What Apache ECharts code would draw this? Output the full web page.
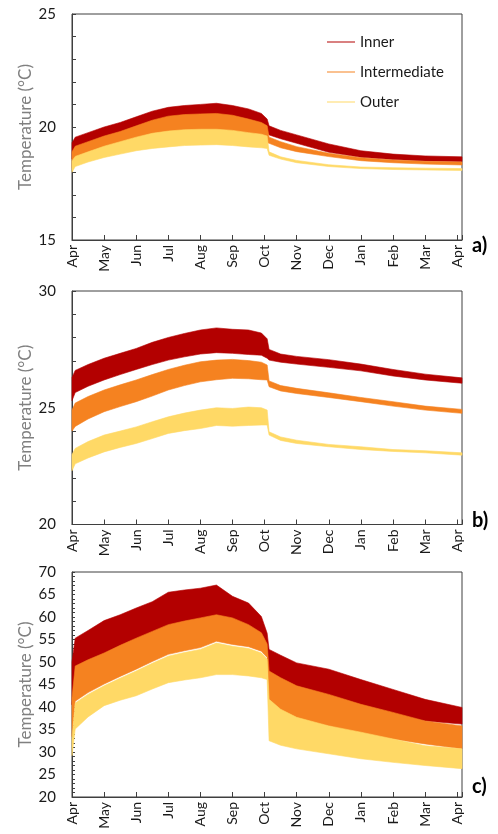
<!DOCTYPE html>
<html>
<head>
<meta charset="utf-8">
<script src="https://cdn.jsdelivr.net/npm/echarts@6/dist/echarts.min.js"></script>
<style>
  html, body { margin: 0; padding: 0; background: #ffffff; }
  #chart { width: 498px; height: 834px; }
</style>
</head>
<body>
<div id="chart"></div>
<script>
// Month tick labels (one year, April to April)
const monthLabels = ['Apr', 'May', 'Jun', 'Jul', 'Aug', 'Sep', 'Oct', 'Nov', 'Dec', 'Jan', 'Feb', 'Mar', 'Apr'];

// Sample positions, in months since 1 April
const monthPos = [0, 0.1, 0.5, 1, 1.5, 2, 2.5, 3, 3.5, 4, 4.5, 5, 5.5, 5.9, 6.08, 6.14, 6.5, 7, 8, 9, 10, 11, 12.15];

// Series names
const seriesNames = ['Inner', 'Intermediate', 'Outer'];

// a) daily temperature envelope (low / high), °C
const aInnerHi = [19.3, 19.55, 19.75, 20.0, 20.2, 20.45, 20.7, 20.87, 20.95, 21.0, 21.05, 20.95, 20.8, 20.6, 20.35, 20.05, 19.85, 19.65, 19.25, 18.95, 18.8, 18.72, 18.68];
const aInnerLo = [18.6, 18.85, 19.05, 19.3, 19.5, 19.75, 20.0, 20.18, 20.25, 20.28, 20.3, 20.22, 20.05, 19.9, 19.75, 19.65, 19.48, 19.28, 18.88, 18.66, 18.56, 18.5, 18.47];
const aMidHi   = [18.9, 19.15, 19.35, 19.6, 19.8, 20.05, 20.3, 20.48, 20.55, 20.58, 20.6, 20.52, 20.35, 20.2, 20.05, 19.55, 19.35, 19.13, 18.84, 18.64, 18.54, 18.48, 18.45];
const aMidLo   = [18.2, 18.4, 18.6, 18.85, 19.05, 19.25, 19.42, 19.52, 19.58, 19.6, 19.6, 19.55, 19.45, 19.38, 19.3, 19.28, 19.08, 18.91, 18.69, 18.51, 18.42, 18.36, 18.32];
const aOuterHi = [18.5, 18.7, 18.9, 19.15, 19.35, 19.55, 19.72, 19.82, 19.88, 19.9, 19.9, 19.85, 19.75, 19.68, 19.6, 18.9, 18.68, 18.52, 18.33, 18.23, 18.2, 18.18, 18.16];
const aOuterLo = [18.0, 18.25, 18.45, 18.65, 18.8, 18.95, 19.05, 19.12, 19.18, 19.2, 19.22, 19.18, 19.12, 19.08, 19.05, 18.75, 18.58, 18.42, 18.25, 18.16, 18.12, 18.1, 18.08];

// b) daily temperature envelope (low / high), °C
const bInnerHi = [26.3, 26.6, 26.85, 27.12, 27.33, 27.54, 27.8, 28.01, 28.18, 28.33, 28.42, 28.36, 28.33, 28.2, 27.95, 27.5, 27.3, 27.2, 27.06, 26.87, 26.64, 26.44, 26.28];
const bInnerLo = [25.3, 25.65, 25.92, 26.19, 26.42, 26.64, 26.85, 27.04, 27.18, 27.3, 27.36, 27.33, 27.28, 27.25, 27.12, 27.04, 26.95, 26.87, 26.73, 26.58, 26.36, 26.19, 26.05];
const bMidHi   = [24.9, 25.2, 25.48, 25.76, 25.98, 26.19, 26.42, 26.64, 26.82, 26.97, 27.04, 27.07, 27.02, 26.95, 26.83, 26.15, 25.95, 25.83, 25.64, 25.44, 25.26, 25.07, 24.93];
const bMidLo   = [24.0, 24.2, 24.52, 24.83, 25.05, 25.26, 25.5, 25.76, 25.95, 26.11, 26.2, 26.26, 26.24, 26.2, 26.19, 25.9, 25.72, 25.61, 25.44, 25.26, 25.07, 24.9, 24.76];
const bOuterHi = [23.0, 23.26, 23.55, 23.83, 24.0, 24.18, 24.4, 24.61, 24.77, 24.9, 25.0, 24.97, 25.03, 25.0, 24.9, 23.97, 23.75, 23.61, 23.43, 23.33, 23.21, 23.16, 23.07];
const bOuterLo = [22.3, 22.6, 22.85, 23.11, 23.3, 23.47, 23.68, 23.9, 24.02, 24.11, 24.24, 24.21, 24.24, 24.26, 24.26, 23.83, 23.6, 23.47, 23.33, 23.21, 23.13, 23.07, 22.97];

// c) daily temperature envelope (low / high), °C
const cInnerHi = [50, 55.3, 57.0, 59.2, 60.5, 62.0, 63.4, 65.5, 66.0, 66.4, 67.1, 64.6, 63.1, 60.1, 56.4, 52.8, 51.5, 49.8, 48.4, 46.1, 43.9, 41.7, 39.9];
const cInnerLo = [40.5, 47.6, 49.0, 50.5, 52.2, 53.8, 55.3, 56.8, 57.6, 58.3, 59.0, 58.3, 56.8, 55.0, 52.5, 46.0, 45.0, 43.9, 42.1, 40.3, 38.4, 36.9, 36.2];
const cMidHi   = [42, 49.1, 50.5, 52.0, 53.7, 55.3, 56.8, 58.3, 59.1, 59.8, 60.5, 59.8, 58.3, 56.5, 54.0, 48.0, 46.5, 44.7, 42.8, 40.6, 38.8, 36.9, 35.8];
const cMidLo   = [33.4, 41.3, 43.2, 45.1, 46.8, 48.4, 50.1, 51.7, 52.5, 53.2, 54.6, 53.9, 53.4, 52.4, 51.0, 40.0, 38.5, 37.3, 35.8, 34.0, 32.9, 31.8, 30.7];
const cOuterHi = [33, 40.9, 42.8, 44.7, 46.4, 48.0, 49.7, 51.3, 52.1, 52.8, 54.2, 53.5, 53.0, 52.0, 50.6, 41.7, 39.5, 37.7, 35.8, 34.4, 32.9, 31.4, 30.7];
const cOuterLo = [29.2, 35.1, 37.8, 40.3, 41.5, 42.5, 44.0, 45.4, 46.0, 46.5, 47.2, 47.2, 46.9, 46.5, 46.1, 32.5, 31.5, 30.7, 29.6, 28.5, 27.7, 27.0, 26.3];

// Y-axis ranges per panel
const yRanges = [[15, 25], [20, 30], [20, 70]];
const panelTags = ['a)', 'b)', 'c)'];

const colors = ['#b30000', '#f58220', '#ffd966'];
const font = 'Lato, "Open Sans", sans-serif';
const axisColor = '#3f3f3f';

const grids = [
  { left: 72, right: 36, top: 14, height: 226 },
  { left: 72, right: 36, top: 291, height: 233.5 },
  { left: 72, right: 36, top: 572, height: 225 }
];

// Min/max band as one filled polygon: upper edge forward, lower edge back
function band(idx, name, lo, hi, color) {
  return {
    type: 'custom', name: name, coordinateSystem: 'cartesian2d',
    xAxisIndex: idx, yAxisIndex: idx, silent: true,
    itemStyle: { color: color },
    data: monthPos.map((x, i) => [x, lo[i], hi[i]]),
    encode: { x: 0, y: [1, 2] },
    renderItem: function (params, api) {
      if (params.dataIndex !== 0) return null;
      const pts = [];
      for (let i = 0; i < monthPos.length; i++) pts.push(api.coord([monthPos[i], hi[i]]));
      for (let i = monthPos.length - 1; i >= 0; i--) pts.push(api.coord([monthPos[i], lo[i]]));
      return {
        type: 'polygon',
        shape: { points: pts },
        style: { fill: color, stroke: color, lineWidth: 0.6 }
      };
    }
  };
}

const panels = [
  [[aInnerLo, aInnerHi], [aMidLo, aMidHi], [aOuterLo, aOuterHi]],
  [[bInnerLo, bInnerHi], [bMidLo, bMidHi], [bOuterLo, bOuterHi]],
  [[cInnerLo, cInnerHi], [cMidLo, cMidHi], [cOuterLo, cOuterHi]]
];

const series = [];
panels.forEach((p, idx) => {
  p.forEach((pair, s) => {
    series.push(band(idx, seriesNames[s], pair[0], pair[1], colors[s]));
  });
});

const xAxes = grids.map((g, i) => ({
  type: 'value', gridIndex: i, min: 0, max: 12.15, interval: 1,
  axisLine: { show: true, lineStyle: { color: axisColor, width: 1 } },
  axisTick: { show: true, inside: true, length: 5, lineStyle: { color: axisColor } },
  splitLine: { show: false },
  axisLabel: {
    rotate: 90, margin: 5, fontSize: 14, color: '#1a1a1a', fontFamily: font,
    formatter: v => (Number.isInteger(v) && monthLabels[v] !== undefined) ? monthLabels[v] : ''
  }
}));

const yAxes = grids.map((g, i) => ({
  type: 'value', gridIndex: i, min: yRanges[i][0], max: yRanges[i][1], interval: 1,
  name: 'Temperature (°C)', nameLocation: 'middle', nameRotate: 90, nameGap: 38,
  nameMoveOverlap: false,
  nameTextStyle: { fontSize: 17, color: '#808080', fontFamily: font },
  axisLine: { show: true, lineStyle: { color: axisColor, width: 1 } },
  axisTick: { show: true, inside: true, length: i === 2 ? 3 : 4, lineStyle: { color: axisColor } },
  splitLine: { show: false },
  axisLabel: {
    margin: 16, fontSize: 15, color: '#1a1a1a', fontFamily: font,
    formatter: v => (v % 5 === 0 ? String(v) : '')
  }
}));

const chart = echarts.init(document.getElementById('chart'), null, { renderer: 'canvas' });
chart.setOption({
  animation: false,
  backgroundColor: '#ffffff',
  grid: grids.map(g => Object.assign({ show: true, borderColor: axisColor, borderWidth: 1, backgroundColor: 'transparent' }, g)),
  xAxis: xAxes,
  yAxis: yAxes,
  legend: {
    data: seriesNames.map((n, i) => ({ name: n, itemStyle: { color: colors[i], borderWidth: 0 } })),
    icon: 'path://M0,0H56V2H0Z',
    orient: 'vertical', left: 322, top: 27,
    itemWidth: 28, itemHeight: 20, itemGap: 10,
    itemStyle: { borderWidth: 0 },
    textStyle: { fontSize: 15, color: '#1a1a1a', fontFamily: font, lineHeight: 20 },
    selectedMode: false
  },
  graphic: panelTags.map((t, i) => ({
    type: 'text', left: 472, top: [236, 511, 777][i],
    style: { text: t, font: 'bold 20px ' + font, fill: '#000' }
  })),
  series: series
});
</script>
</body>
</html>
